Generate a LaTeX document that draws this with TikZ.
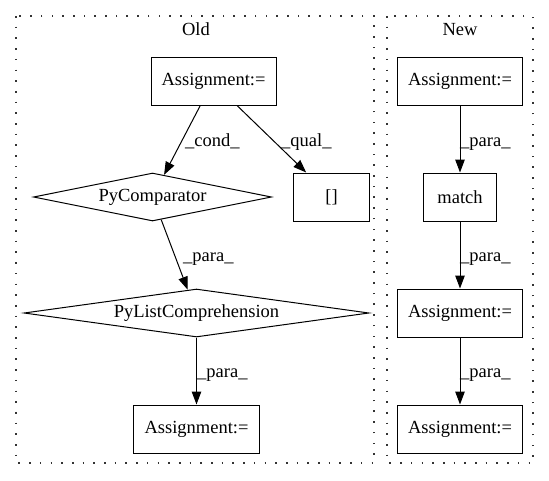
\documentclass[tikz,border=0pt]{standalone}
\usepackage{fontspec}
\setmainfont{Liberation Serif}
\usetikzlibrary{shapes.geometric,arrows.meta}
\tikzset{
  txt/.style={font=\fontsize{18.5}{20}\selectfont},
  box/.style={draw, line width=1pt, rectangle, minimum height=48pt, inner sep=0pt, txt},
  dia/.style={draw, line width=1pt, diamond, minimum height=48pt, inner sep=0pt, label={[txt]center:#1}},
  lbl/.style={inner sep=0pt, anchor=base west, txt},
  ttl/.style={inner sep=0pt, anchor=base, txt},
  edge/.style={line width=1pt, -{Triangle[length=13pt,width=9.5pt]}},
  cluster/.style={line width=1.3pt, draw=black!80, dash pattern=on 1.6pt off 9.1pt}
}
\begin{document}
\begin{tikzpicture}[x=1pt,y=-1pt]
\useasboundingbox (0,0) rectangle (549,480);
% clusters
\draw[cluster] (16,16) rectangle (374,463);
\draw[cluster] (387,16) rectangle (533,463);
\node[ttl] (told) at (196,35) {Old};
\node[ttl] (tnew) at (460,35) {New};
% Old nodes
\node[box, minimum width=125pt] (oa1) at (213.5,81) {Assignment:=};
\node[dia=PyComparator, minimum width=238pt] (pc) at (152.5,197) {};
\node[box, minimum width=76.5pt] (brk) at (331.5,197) {[]};
\node[dia=PyListComprehension, minimum width=345pt] (plc) at (196.5,313) {};
\node[box, minimum width=126pt] (oa2) at (196.5,429) {Assignment:=};
% New nodes
\node[box, minimum width=125pt] (na1) at (460,81) {Assignment:=};
\node[box, minimum width=73pt] (m) at (460,197) {match};
\node[box, minimum width=125pt] (na2) at (460,313) {Assignment:=};
\node[box, minimum width=125pt] (na3) at (460,429) {Assignment:=};
% Old edges
\draw[edge] ([xshift=-13.2pt]oa1.south) -- (pc);
\draw[edge] ([xshift=23.5pt]oa1.south) -- (brk);
\draw[edge] (pc.-69) -- (plc);
\draw[edge] (plc.south) -- (oa2.north);
% New edges
\draw[edge] (na1.south) -- (m.north);
\draw[edge] (m.south) -- (na2.north);
\draw[edge] (na2.south) -- (na3.north);
% edge labels
\node[lbl] (lcond) at (185,146.5) {\_cond\_};
\node[lbl] (lqual) at (281,146.5) {\_qual\_};
\node[lbl] (lp1) at (183,261.5) {\_para\_};
\node[lbl] (lp2) at (197,377.5) {\_para\_};
\node[lbl] (lp3) at (460,146) {\_para\_};
\node[lbl] (lp4) at (460,261.5) {\_para\_};
\node[lbl] (lp5) at (460,377.5) {\_para\_};
\end{tikzpicture}
\end{document}
